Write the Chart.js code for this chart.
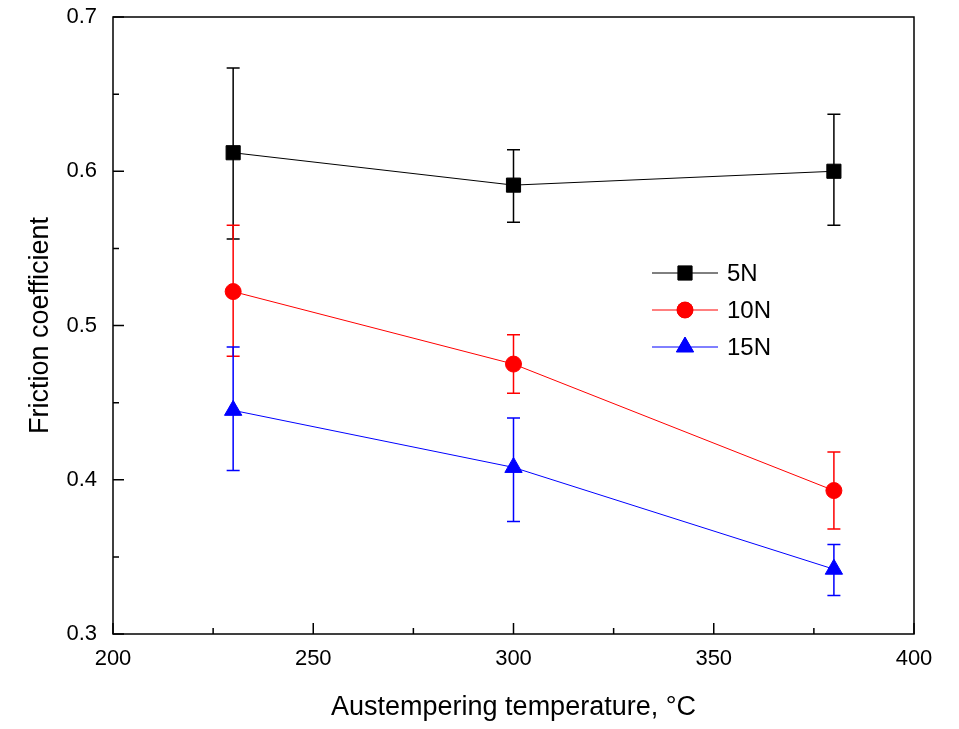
<!DOCTYPE html>
<html>
<head>
<meta charset="utf-8">
<script src="https://cdn.jsdelivr.net/npm/chart.js@4/dist/chart.umd.min.js"></script>
<style>
  body { margin: 0; background: #fff; }
  #wrap { width: 959px; height: 729px; }
</style>
</head>
<body>
<div id="wrap"><canvas id="myChart" width="959" height="729"></canvas></div>
<script>
// austempering temperature (°C)
const temps = [230, 300, 380];

// friction coefficient, with error bar ends
const f5 = [0.612, 0.591, 0.600];
const f5Lo = [0.556, 0.567, 0.565];
const f5Hi = [0.667, 0.614, 0.637];

const f10 = [0.522, 0.475, 0.393];
const f10Lo = [0.480, 0.456, 0.368];
const f10Hi = [0.565, 0.494, 0.418];

const f15 = [0.445, 0.408, 0.342];
const f15Lo = [0.406, 0.373, 0.325];
const f15Hi = [0.486, 0.440, 0.358];

const seriesLabels = ["5N", "10N", "15N"];

const FONT = "'Liberation Sans', Arial, sans-serif";

function toPoints(xs, ys, lo, hi) {
    return xs.map((x, i) => ({ x: x, y: ys[i], lo: lo[i], hi: hi[i] }));
}

// draw error bars under the markers
const errorBars = {
    id: "errorBars",
    beforeDatasetsDraw(chart) {
        const ctx = chart.ctx;
        const y = chart.scales.y;
        chart.data.datasets.forEach((ds, di) => {
            const meta = chart.getDatasetMeta(di);
            ctx.save();
            ctx.strokeStyle = ds.borderColor;
            ctx.lineWidth = 1.5;
            meta.data.forEach((pt, i) => {
                const d = ds.data[i];
                const top = y.getPixelForValue(d.hi);
                const bot = y.getPixelForValue(d.lo);
                ctx.beginPath();
                ctx.moveTo(pt.x, top);
                ctx.lineTo(pt.x, bot);
                ctx.moveTo(pt.x - 6.5, top);
                ctx.lineTo(pt.x + 6.5, top);
                ctx.moveTo(pt.x - 6.5, bot);
                ctx.lineTo(pt.x + 6.5, bot);
                ctx.stroke();
            });
            ctx.restore();
        });
    },
};

// box frame and inward ticks
const frame = {
    id: "frame",
    afterDraw(chart) {
        const { ctx, chartArea: a } = chart;
        const x = chart.scales.x;
        const y = chart.scales.y;
        ctx.save();
        ctx.strokeStyle = "#000";
        ctx.lineWidth = 1.5;
        ctx.strokeRect(a.left, a.top, a.right - a.left, a.bottom - a.top);
        ctx.beginPath();
        for (let i = 0; i <= 8; i++) {
            const px = x.getPixelForValue(200 + i * 25);
            const len = i % 2 === 0 ? 11 : 6;
            ctx.moveTo(px, a.bottom);
            ctx.lineTo(px, a.bottom - len);
        }
        for (let i = 0; i <= 8; i++) {
            const py = y.getPixelForValue(0.3 + i * 0.05);
            const len = i % 2 === 0 ? 11 : 6;
            ctx.moveTo(a.left, py);
            ctx.lineTo(a.left + len, py);
        }
        ctx.stroke();
        ctx.restore();
    },
};

// legend inside the plot
const insideLegend = {
    id: "insideLegend",
    afterDraw(chart) {
        const ctx = chart.ctx;
        ctx.save();
        chart.data.datasets.forEach((ds, i) => {
            const cy = 273 + i * 37;
            ctx.strokeStyle = ds.borderColor;
            ctx.lineWidth = 1;
            ctx.beginPath();
            ctx.moveTo(652, cy);
            ctx.lineTo(718, cy);
            ctx.stroke();
            Chart.helpers.drawPoint(ctx, {
                pointStyle: ds.pointStyle,
                radius: ds.pointRadius,
                borderWidth: 1,
                rotation: 0,
            }, 685, cy);
            ctx.fillStyle = ds.backgroundColor;
            ctx.fill();
            ctx.fillStyle = "#000";
            ctx.font = "24px " + FONT;
            ctx.textBaseline = "middle";
            ctx.fillText(ds.label, 727, cy + 1);
        });
        ctx.restore();
    },
};

new Chart(document.getElementById("myChart"), {
    type: "line",
    data: {
        datasets: [
            {
                label: seriesLabels[0],
                data: toPoints(temps, f5, f5Lo, f5Hi),
                borderColor: "#000000",
                backgroundColor: "#000000",
                borderWidth: 1,
                pointStyle: "rect",
                pointRadius: 10,
            },
            {
                label: seriesLabels[1],
                data: toPoints(temps, f10, f10Lo, f10Hi),
                borderColor: "#ff0000",
                backgroundColor: "#ff0000",
                borderWidth: 1,
                pointStyle: "circle",
                pointRadius: 8,
            },
            {
                label: seriesLabels[2],
                data: toPoints(temps, f15, f15Lo, f15Hi),
                borderColor: "#0000ff",
                backgroundColor: "#0000ff",
                borderWidth: 1,
                pointStyle: "triangle",
                pointRadius: 10,
            },
        ],
    },
    options: {
        responsive: false,
        animation: false,
        layout: { padding: { top: 17, right: 45, left: 0, bottom: 0 } },
        plugins: {
            legend: { display: false },
            tooltip: { enabled: false },
        },
        scales: {
            x: {
                type: "linear",
                min: 200,
                max: 400,
                afterFit: (s) => {
                    s.height = 95;
                    s.paddingLeft = 0;
                    s.paddingRight = 0;
                },
                ticks: {
                    stepSize: 50,
                    color: "#000",
                    padding: 12,
                    maxRotation: 0,
                    font: { family: FONT, size: 22 },
                },
                grid: { display: false, drawTicks: false },
                border: { display: false },
                title: {
                    display: true,
                    text: "Austempering temperature, °C",
                    color: "#000",
                    font: { family: FONT, size: 27 },
                    padding: { top: 0, bottom: 5 },
                },
            },
            y: {
                min: 0.3,
                max: 0.7,
                afterFit: (s) => {
                    s.width = 113;
                    s.paddingTop = 0;
                    s.paddingBottom = 0;
                },
                ticks: {
                    stepSize: 0.1,
                    color: "#000",
                    padding: 16,
                    font: { family: FONT, size: 22 },
                    callback: (v) => v.toFixed(1),
                },
                grid: { display: false, drawTicks: false },
                border: { display: false },
                title: {
                    display: true,
                    text: "Friction coefficient",
                    color: "#000",
                    font: { family: FONT, size: 27 },
                    padding: { top: 24, bottom: 0 },
                },
            },
        },
    },
    plugins: [errorBars, frame, insideLegend],
});
</script>
</body>
</html>
